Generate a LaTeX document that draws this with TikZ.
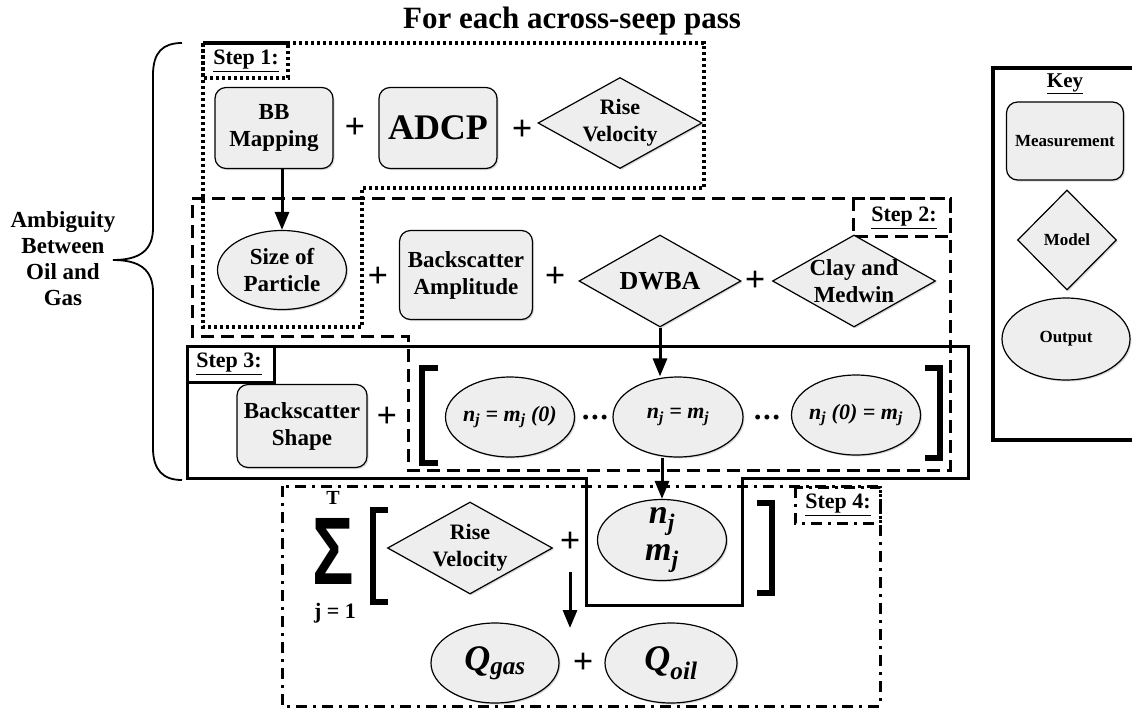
\documentclass[tikz,border=0pt]{standalone}
\usepackage{fontspec}
\setmainfont{Liberation Serif}
\newfontfamily\sigmafont{Liberation Sans}
\usetikzlibrary{shapes.geometric,arrows.meta,shadows}
\definecolor{boxgray}{RGB}{238,238,238}
\tikzset{
  measbox/.style={draw,rectangle,rounded corners=11pt,fill=boxgray,line width=1.2pt,inner sep=0pt,align=center,
    font=\bfseries\fontsize{23}{27}\selectfont,drop shadow={opacity=0.3,shadow xshift=1.5pt,shadow yshift=-1.5pt}},
  modelbox/.style={draw,diamond,aspect=1.8,fill=boxgray,line width=1.2pt,inner xsep=-20pt,inner ysep=-12pt,align=center,
    font=\bfseries\fontsize{22}{27}\selectfont,drop shadow={opacity=0.3,shadow xshift=1.5pt,shadow yshift=-1.5pt}},
  outbox/.style={draw,ellipse,fill=boxgray,line width=1.2pt,inner xsep=-10pt,inner ysep=-10pt,align=center,
    font=\bfseries\fontsize{23}{27}\selectfont,drop shadow={opacity=0.3,shadow xshift=1.5pt,shadow yshift=-1.5pt}},
  plus/.style={font=\bfseries\fontsize{36}{36}\selectfont,inner sep=0pt},
  ellip/.style={font=\bfseries\fontsize{18}{18}\selectfont,inner sep=0pt},
  steplabel/.style={font=\bfseries\fontsize{22}{24}\selectfont,inner sep=0pt},
  arr/.style={line width=3pt,-{Triangle[length=18pt,width=14pt]}},
  bracket/.style={line width=6pt,line cap=butt,line join=miter},
  dotline/.style={line width=3.2pt,dash pattern=on 3.2pt off 2.8pt},
  dashline/.style={line width=3pt,dash pattern=on 13pt off 7pt},
  dashdotline/.style={line width=3pt,dash pattern=on 11pt off 6pt on 3pt off 6pt},
  solidline/.style={line width=3pt}
}
\begin{document}
\begin{tikzpicture}[x=1pt,y=-1pt]
\useasboundingbox (0,0) rectangle (1132,710);

\node[font=\bfseries\fontsize{31}{31}\selectfont] (title) at (572,21) {For each across-seep pass};

\draw[line width=1.8pt] (182,43) .. controls (163,43) and (153,52) .. (153,75) -- (153,228)
  .. controls (153,250) and (140,260) .. (113,260) .. controls (140,260) and (153,270) .. (153,292)
  -- (153,448) .. controls (153,470) and (163,480) .. (182,480);
\node[align=center,font=\bfseries\fontsize{23}{26}\selectfont] (ambig) at (63,259) {Ambiguity\\Between\\Oil and\\Gas};

% step outlines
\draw[dotline] (203,43) -- (704,43) -- (704,188) -- (362,188) -- (362,327) -- (203,327) -- cycle;
\draw[dotline] (203,43) rectangle (288,78);
\draw[dashline] (192,198) -- (950,198) -- (950,470) -- (408,470) -- (408,336) -- (192,336) -- cycle;
\draw[dashline] (853,198) rectangle (950,236);
\draw[solidline] (187,346) -- (968,346) -- (968,478) -- (742,478) -- (742,605) -- (586,605) -- (586,478) -- (187,478) -- cycle;
\draw[solidline] (187,346) rectangle (274,382);
\draw[dashdotline] (282,486) rectangle (880,706);
\draw[dashdotline] (795,487) rectangle (880,523);

\node[steplabel] (stepone) at (246,61) {\underline{Step 1:}};
\node[steplabel] (steptwo) at (904,218) {\underline{Step 2:}};
\node[steplabel] (stepthree) at (229,364) {\underline{Step 3:}};
\node[steplabel] (stepfour) at (838,505) {\underline{Step 4:}};

% step 1
\node[measbox,minimum width=118pt,minimum height=81pt] (bb) at (274,128) {BB\\Mapping};
\node[plus] (plusa) at (355,128) {+};
\node[measbox,minimum width=118pt,minimum height=81pt,font=\bfseries\fontsize{36}{38}\selectfont] (adcp) at (438,128) {ADCP};
\node[plus] (plusb) at (522,130) {+};
\node[modelbox,minimum width=164pt,minimum height=91pt] (risea) at (620,123) {Rise\\Velocity};

% step 2
\node[outbox,minimum width=129pt,minimum height=79pt] (size) at (282,270) {Size of\\Particle};
\node[plus] (plusc) at (378,277) {+};
\node[measbox,minimum width=133pt,minimum height=89pt] (bsamp) at (466,275) {Backscatter\\Amplitude};
\node[plus] (plusd) at (555,277) {+};
\node[modelbox,minimum width=162pt,minimum height=92pt,font=\bfseries\fontsize{26}{28}\selectfont] (dwba) at (660,281) {DWBA};
\node[plus] (pluse) at (755,281) {+};
\node[modelbox,minimum width=163pt,minimum height=92pt,font=\bfseries\fontsize{23}{27}\selectfont] (clay) at (854,281) {Clay and\\Medwin};

% step 3
\node[measbox,minimum width=130pt,minimum height=83pt] (bsshape) at (302,426) {Backscatter\\Shape};
\node[plus] (plusf) at (387,417) {+};
\draw[bracket] (438,368) -- (422,368) -- (422,463) -- (438,463);
\node[outbox,minimum width=129pt,minimum height=80pt,font=\bfseries\itshape\fontsize{22}{24}\selectfont] (nmfirst) at (510,417) {n\textsubscript{j} = m\textsubscript{j} (0)};
\node[ellip] (dotsa) at (595,419) {•\kern3pt•\kern3pt•};
\node[outbox,minimum width=130pt,minimum height=80pt,font=\bfseries\itshape\fontsize{22}{24}\selectfont] (nmmid) at (678,417) {n\textsubscript{j} = m\textsubscript{j}};
\node[ellip] (dotsb) at (767,419) {•\kern3pt•\kern3pt•};
\node[outbox,minimum width=129pt,minimum height=80pt,font=\bfseries\itshape\fontsize{22}{24}\selectfont] (nmlast) at (856,415) {n\textsubscript{j} (0) = m\textsubscript{j}};
\draw[bracket] (925,368) -- (940,368) -- (940,458) -- (925,458);

% step 4
\node[font=\sigmafont\bfseries\fontsize{96}{96}\selectfont,inner sep=0pt,text height=69pt,text depth=0pt] (sum) at (333,550) {\scalebox{0.72}[1]{Σ}};
\node[steplabel,font=\bfseries\fontsize{20}{20}\selectfont] (sumtop) at (333,498) {T};
\node[steplabel] (sumbot) at (335,613) {j = 1};
\draw[bracket] (388,510) -- (373,510) -- (373,602) -- (388,602);
\node[modelbox,minimum width=165pt,minimum height=92pt] (riseb) at (470,548) {Rise\\Velocity};
\node[plus] (plusg) at (570,542) {+};
\node[outbox,minimum width=129pt,minimum height=81pt,font=\bfseries\itshape\fontsize{34}{37}\selectfont] (nm) at (662,540) {n\textsubscript{j}\\m\textsubscript{j}};
\draw[bracket] (757,503) -- (772,503) -- (772,593) -- (757,593);
\node[outbox,minimum width=128pt,minimum height=80pt,font=\bfseries\itshape\fontsize{36}{38}\selectfont] (qgas) at (495,663) {Q\textsubscript{gas}};
\node[plus] (plush) at (583,663) {+};
\node[outbox,minimum width=132pt,minimum height=80pt,font=\bfseries\itshape\fontsize{36}{38}\selectfont] (qoil) at (671,663) {Q\textsubscript{oil}};

% key
\draw[line width=3.5pt] (993,68) rectangle (1145,440);
\node[steplabel,font=\bfseries\fontsize{21}{21}\selectfont] (keytitle) at (1065,84) {\underline{Key}};
\node[measbox,minimum width=117pt,minimum height=78pt,font=\bfseries\fontsize{17}{19}\selectfont] (keymeas) at (1065,141) {Measurement};
\node[modelbox,aspect=1,minimum width=99pt,minimum height=100pt,font=\bfseries\fontsize{17}{19}\selectfont] (keymodel) at (1067,240) {Model};
\node[outbox,minimum width=128pt,minimum height=82pt,font=\bfseries\fontsize{17}{19}\selectfont] (keyout) at (1066,339) {Output};

% arrows
\draw[arr] (size.north |- bb.south) -- (size.north);
\draw[arr] (dwba.south) -- (dwba.south |- nmmid.north);
\draw[arr] (nm.north |- nmmid.south) -- (nm.north);
\coordinate (qstart) at (570,572);
\coordinate (qend) at (570,628);
\draw[arr] (qstart) -- (qend);
\end{tikzpicture}
\end{document}
